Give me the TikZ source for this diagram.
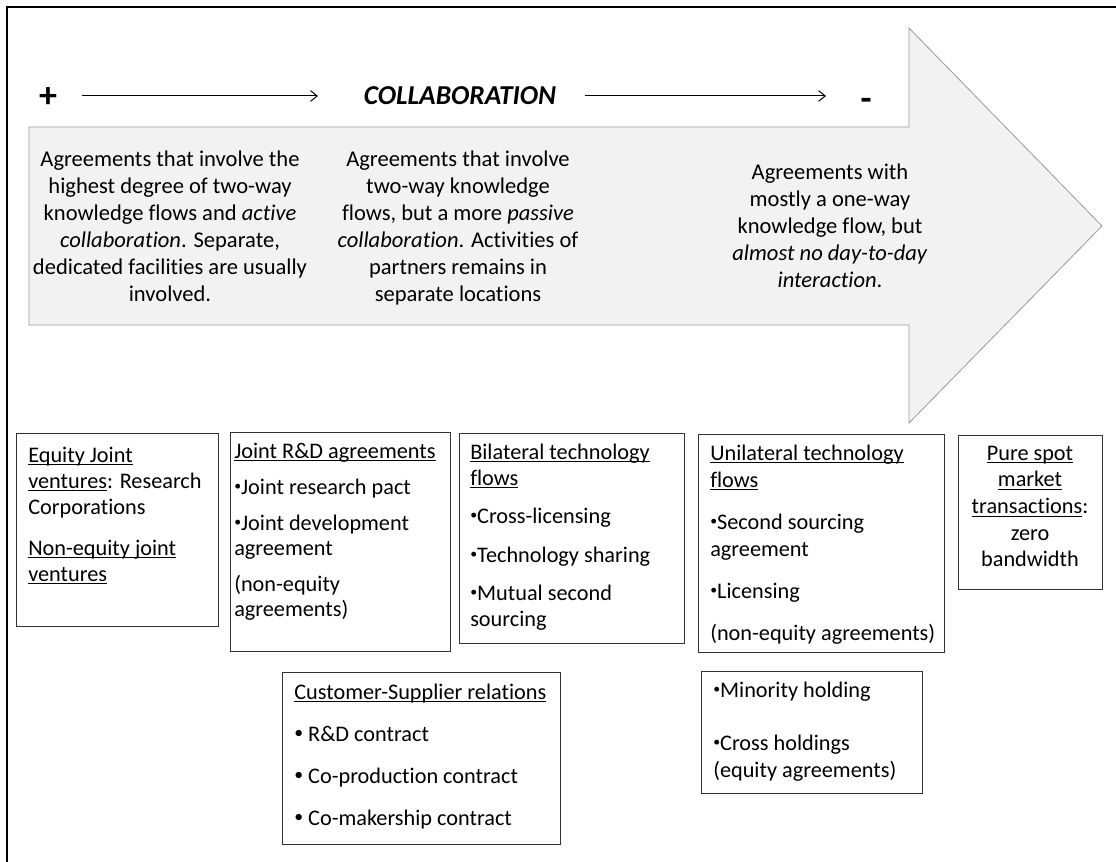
\documentclass[tikz,border=0pt]{standalone}
\usepackage{fontspec}
\setmainfont{Carlito}[Ligatures=CommonOff]
\usetikzlibrary{arrows.meta}
\definecolor{shaftfill}{HTML}{F2F2F2}
\definecolor{shaftline}{HTML}{9A9A9A}
% underline that sits just under the baseline
\newcommand\ulx[1]{\setbox0\hbox{#1}\rlap{\rule[-2.4pt]{\wd0}{0.8pt}}\box0}
% small list bullets
\newcommand\blt{\raisebox{0.18em}{\scalebox{0.62}{•}}}
\newcommand\bltw{\raisebox{0.12em}{\scalebox{0.8}{•}}}
\begin{document}
\begin{tikzpicture}[x=0.75pt,y=-0.75pt,
  card/.style={draw=black!80, line width=0.7pt, anchor=north west, inner sep=0pt},
  cardtext/.style={anchor=north west, inner sep=0pt, align=left},
  arrowtext/.style={anchor=north, inner sep=0pt, align=center,
    font=\fontsize{16.9}{20.25}\selectfont},
  sign/.style={inner sep=0pt, font=\fontsize{27}{30}\selectfont\bfseries},
  hdr/.style={line width=0.75pt, -{Straight Barb[length=5pt,width=8pt]}},
  shaft/.style={fill=shaftfill, draw=shaftline, line width=0.6pt, line join=miter}]
\useasboundingbox (0,0) rectangle (1116,862);

% outer frame
\draw[line width=1.1pt] (1116,7) -- (7,7) -- (7,862);

% big block arrow
\draw[shaft] (29,127) -- (909,127) -- (909,28) -- (1102,226) -- (909,423)
  -- (909,325) -- (29,325) -- cycle;

% header line
\node[sign] (plus) at (48,98) {+};
\node[inner sep=0pt, font=\fontsize{20.5}{24}\selectfont\bfseries\itshape] (collab) at (460,96) {COLLABORATION};
\node[sign] (minus) at (866,104) {-};
\coordinate (h1a) at (82,96);
\coordinate (h1b) at (318,96);
\coordinate (h2a) at (585,96);
\coordinate (h2b) at (826,96);
\draw[hdr] (h1a) -- (h1b);
\draw[hdr] (h2a) -- (h2b);

% texts inside the arrow
\node[arrowtext] (t1) at (170,147.1) {\strut Agreements that involve the\\
  highest degree of two-way\\ knowledge flows and \textit{active}\\
  \textit{collaboration}. Separate,\\ dedicated facilities are usually\\ involved.};
\node[arrowtext] (t2) at (458,147.1) {\strut Agreements that involve\\
  two-way knowledge\\ flows, but a more \textit{passive}\\
  \textit{collaboration}. Activities of\\ partners remains in\\ separate locations};
\node[arrowtext] (t3) at (830,160.1) {\strut Agreements with\\ mostly a one-way\\
  knowledge flow, but\\ \textit{almost no day-to-day}\\ \textit{interaction}.};

% category boxes
\node[card, minimum width=151.5pt, minimum height=144.75pt] (eq) at (16,433) {};
\node[cardtext, font=\fontsize{16.7}{19.5}\selectfont] (eqt) at (28,443.8)
  {\strut\ulx{Equity Joint}\\ \ulx{ventures}: Research\\ Corporations\\[11.25pt]
   \ulx{Non-equity joint}\\ \ulx{ventures}};

\node[card, minimum width=165pt, minimum height=164.25pt] (rd) at (230,432) {};
\node[cardtext, font=\fontsize{16.7}{18.75}\selectfont] (rdt) at (234,440.5)
  {\strut\ulx{Joint R\&D agreements}\\[8.25pt] \blt Joint research pact\\[8.25pt]
   \blt Joint development\\ agreement\\[8.25pt] (non-equity\\ agreements)};

\node[card, minimum width=168.75pt, minimum height=157.5pt] (bi) at (459,433) {};
\node[cardtext, font=\fontsize{16.7}{19.5}\selectfont] (bit) at (470,440.8)
  {\strut\ulx{Bilateral technology}\\ \ulx{flows}\\[9.4pt] \blt Cross-licensing\\[9.4pt]
   \blt Technology sharing\\[9.4pt] \blt Mutual second\\ sourcing};

\node[card, minimum width=184.5pt, minimum height=163.5pt] (uni) at (698,434) {};
\node[cardtext, font=\fontsize{16.7}{20.25}\selectfont] (unit) at (710,441.1)
  {\strut\ulx{Unilateral technology}\\ \ulx{flows}\\[11.25pt] \blt Second sourcing\\
   agreement\\[11.25pt] \blt Licensing\\[11.25pt] (non-equity agreements)};

\node[card, minimum width=108pt, minimum height=115.5pt] (spot) at (958,435) {};
\node[inner sep=0pt, anchor=north, align=center, font=\fontsize{16.7}{20}\selectfont] (spott) at (1030,441.1)
  {\strut\ulx{Pure spot}\\ \ulx{market}\\ \ulx{transactions}:\\ zero\\ bandwidth};

\node[card, minimum width=165.75pt, minimum height=91.5pt] (hold) at (701,671) {};
\node[cardtext, font=\fontsize{16.7}{20.25}\selectfont] (holdt) at (713,678.1)
  {\strut\blt Minority holding\\[19.5pt] \blt Cross holdings\\ (equity agreements)};

\node[card, minimum width=208.5pt, minimum height=129pt] (cs) at (282,672) {};
\node[cardtext, font=\fontsize{16.7}{20.25}\selectfont] (cst) at (294,680.1)
  {\strut\ulx{Customer-Supplier relations}\\[11.25pt] \bltw\ R\&D contract\\[11.25pt]
   \bltw\ Co-production contract\\[11.25pt] \bltw\ Co-makership contract};
\end{tikzpicture}
\end{document}
